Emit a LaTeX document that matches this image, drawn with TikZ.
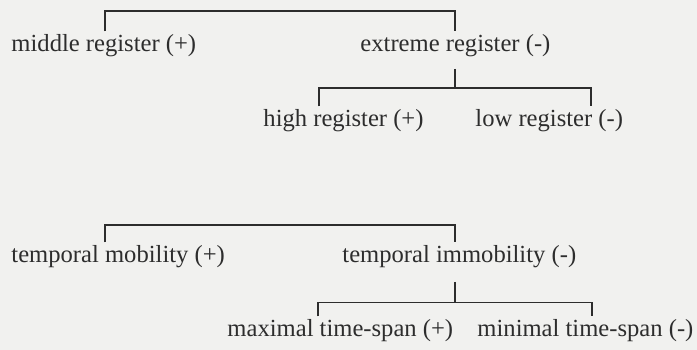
\documentclass[tikz,border=0pt]{standalone}
\usepackage{fontspec}
\setmainfont{Liberation Serif}
\usepackage{tikz}

\definecolor{paper}{RGB}{241,241,239}
\definecolor{ink}{RGB}{45,45,45}

\begin{document}
\begin{tikzpicture}[
    term/.style={anchor=base west, inner sep=0.08cm, text=ink, font=\fontsize{17.5}{20}\selectfont},
    bracket/.style={draw=ink, line width=1.1pt}]
    \fill[paper] (0,0) rectangle (17.425,8.75);
    \useasboundingbox (0,0) rectangle (17.425,8.75);

    % register
    \node[term] (middle) at (0.2,7.45) {middle register (+)};
    \node[term] (extreme) at (8.925,7.45) {extreme register (-)};
    \node[term] (high) at (6.5,5.575) {high register (+)};
    \node[term] (low) at (11.8,5.575) {low register (-)};
    \coordinate (regL) at (2.625,8.475);
    \coordinate (regR) at (11.375,8.475);
    \coordinate (hiL) at (7.975,6.55);
    \coordinate (hiR) at (14.775,6.55);
    \draw[bracket] (middle.north -| regL) -- (regL) -- (regR) -- (extreme.north -| regR);
    \draw[bracket, shorten <=0.2cm] (extreme.south -| regR) -- (hiL -| regR);
    \draw[bracket] (high.north -| hiL) -- (hiL) -- (hiR) -- (low.north -| hiR);

    % time
    \node[term] (mobile) at (0.2,2.175) {temporal mobility (+)};
    \node[term] (immobile) at (8.475,2.175) {temporal immobility (-)};
    \node[term] (maxspan) at (5.6,0.325) {maximal time-span (+)};
    \node[term] (minspan) at (11.85,0.325) {minimal time-span (-)};
    \coordinate (timeL) at (2.625,3.125);
    \coordinate (timeR) at (11.375,3.125);
    \coordinate (spanL) at (7.95,1.19);
    \coordinate (spanR) at (14.8,1.19);
    \draw[bracket] (mobile.north -| timeL) -- (timeL) -- (timeR) -- (immobile.north -| timeR);
    \draw[bracket, shorten <=0.25cm] (immobile.south -| timeR) -- (spanL -| timeR);
    \draw[bracket] (maxspan.north -| spanL) -- (spanL) -- (spanR) -- (minspan.north -| spanR);
\end{tikzpicture}
\end{document}
